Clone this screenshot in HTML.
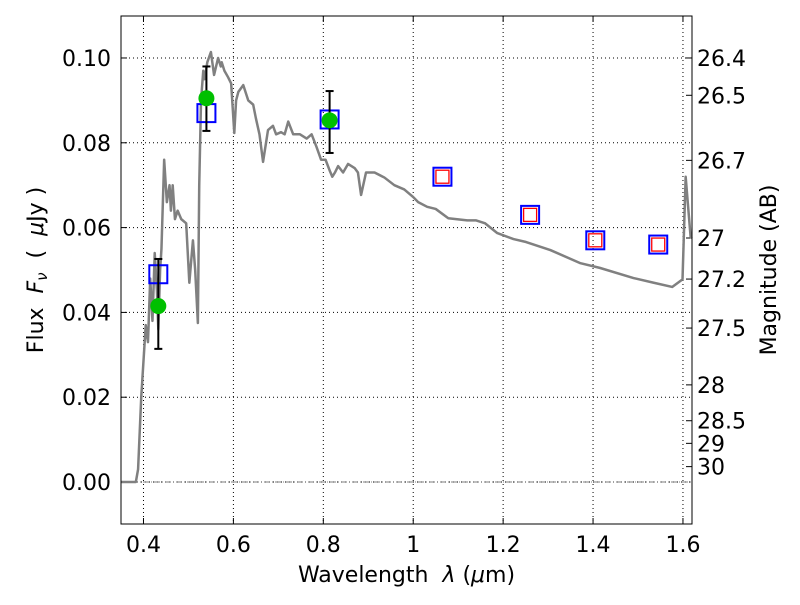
<!DOCTYPE html>
<html><head><meta charset="utf-8"><style>
body{margin:0;background:#fff}
svg text{font-family:"DejaVu Sans","Liberation Sans",sans-serif;fill:#000;white-space:pre}
</style></head><body>
<svg id="chart" width="800" height="600" xmlns="http://www.w3.org/2000/svg"></svg>
<script>
const specLam=[0.35,0.383,0.388,0.395,0.405,0.41,0.415,0.42,0.425,0.43,0.433,0.437,0.44,0.446,0.452,0.458,0.461,0.465,0.47,0.476,0.484,0.495,0.502,0.506,0.51,0.515,0.521,0.524,0.528,0.533,0.536,0.542,0.55,0.557,0.566,0.572,0.574,0.58,0.588,0.595,0.602,0.606,0.611,0.622,0.633,0.644,0.65,0.658,0.666,0.677,0.688,0.695,0.706,0.714,0.722,0.733,0.748,0.763,0.774,0.785,0.795,0.805,0.814,0.82,0.826,0.833,0.844,0.855,0.87,0.877,0.884,0.895,0.914,0.936,0.958,0.98,1.0,1.011,1.031,1.05,1.078,1.12,1.14,1.16,1.187,1.223,1.251,1.305,1.372,1.415,1.49,1.535,1.576,1.599,1.606,1.617,1.62];
const specFlux=[0.0,0.0,0.003,0.02,0.037,0.033,0.048,0.038,0.054,0.045,0.036,0.05,0.055,0.076,0.066,0.07,0.064,0.07,0.062,0.064,0.062,0.061,0.047,0.052,0.057,0.05,0.0375,0.07,0.09,0.097,0.095,0.099,0.1014,0.096,0.1,0.098,0.099,0.097,0.0955,0.094,0.0823,0.09,0.092,0.0936,0.09,0.089,0.0858,0.082,0.0755,0.083,0.084,0.082,0.0825,0.082,0.085,0.082,0.082,0.081,0.082,0.079,0.076,0.076,0.0735,0.072,0.073,0.0745,0.073,0.075,0.074,0.073,0.0677,0.073,0.073,0.0718,0.07,0.069,0.0672,0.066,0.0649,0.0644,0.0622,0.0617,0.0617,0.061,0.0587,0.0573,0.0566,0.0547,0.0516,0.0505,0.0481,0.047,0.046,0.0478,0.072,0.0578,0.0575];
const obsLam=[0.433,0.54,0.814];
const obsFlux=[0.0415,0.0905,0.0853];
const obsLo=[0.0314,0.0828,0.0776];
const obsHi=[0.0526,0.098,0.0922];
const modLam=[0.433,0.54,0.814,1.065,1.26,1.405,1.545];
const modFlux=[0.049,0.087,0.0855,0.072,0.063,0.057,0.056];
const redLam=[1.065,1.26,1.405,1.545];
const redFlux=[0.072,0.063,0.057,0.056];
const xTicks=[0.4,0.6,0.8,1.0,1.2,1.4,1.6];
const xTickLabels=["0.4","0.6","0.8","1","1.2","1.4","1.6"];
const yTicks=[0,0.02,0.04,0.06,0.08,0.10];
const yTickLabels=["0.00","0.02","0.04","0.06","0.08","0.10"];
const magTicks=[26.4,26.5,26.7,27,27.2,27.5,28,28.5,29,30];

const L=121,R=692,T=16,B=524;
const X0=0.35,X1=1.6201,Y0=-0.0099,Y1=0.1099;
const sx=v=>L+(v-X0)/(X1-X0)*(R-L);
const sy=v=>B-(v-Y0)/(Y1-Y0)*(B-T);
const svg=document.getElementById('chart');
const NS='http://www.w3.org/2000/svg';
function mk(tag,attrs,parent){const e=document.createElementNS(NS,tag);for(const k in attrs)e.setAttribute(k,attrs[k]);(parent||svg).appendChild(e);return e;}

xTicks.forEach((t,i)=>{
 const g=mk('line',{x1:sx(t),x2:sx(t),y1:T,y2:B,stroke:'#000','stroke-width':1,'stroke-dasharray':'1,3'});
 
 
 const tk=mk('line',{x1:sx(t),x2:sx(t),y1:B,y2:B-6,stroke:'#000'});
 
 
 mk('line',{x1:sx(t),x2:sx(t),y1:T,y2:T+6,stroke:'#000'});
 const lb=mk('text',{x:sx(t),y:B+28,'font-size':22,'text-anchor':'middle'});
 lb.textContent=xTickLabels[i];
 
 
});
yTicks.forEach((t,i)=>{
 const g=mk('line',{x1:L,x2:R,y1:sy(t),y2:sy(t),stroke:'#000','stroke-width':1,'stroke-dasharray':'1,3'});
 
 
 const tk=mk('line',{x1:L,x2:L+6,y1:sy(t),y2:sy(t),stroke:'#000'});
 
 
 const lb=mk('text',{x:L-10,y:sy(t)+8,'font-size':22,'text-anchor':'end'});
 lb.textContent=yTickLabels[i];
 
 
});
magTicks.forEach(m=>{
 const f=Math.pow(10,(23.9-m)/2.5);
 const tk=mk('line',{x1:R-6,x2:R,y1:sy(f),y2:sy(f),stroke:'#000'});
 
 
 const lb=mk('text',{x:R+5,y:sy(f)+8,'font-size':22});
 lb.textContent=String(m);
 
 
});
const z=mk('line',{x1:L,x2:R,y1:sy(0),y2:sy(0),stroke:'#555','stroke-width':0.8,'stroke-dasharray':'6,2,1,2'});



const sp=mk('polyline',{points:specLam.map((l,i)=>sx(l)+','+sy(specFlux[i])).join(' '),fill:'none',stroke:'#808080','stroke-width':2.5,'stroke-linejoin':'round'});



modLam.forEach((l,i)=>{
 const r=mk('rect',{x:sx(l)-9,y:sy(modFlux[i])-9,width:18,height:18,fill:'none',stroke:'#0000ff','stroke-width':2});
 
 
});
redLam.forEach((l,i)=>{
 const r=mk('rect',{x:sx(l)-6.5,y:sy(redFlux[i])-6.5,width:13,height:13,fill:'none',stroke:'#ff0000','stroke-width':1.3});
 
 
});
obsLam.forEach((l,i)=>{
 const x=sx(l);
 const e=mk('line',{x1:x,x2:x,y1:sy(obsLo[i]),y2:sy(obsHi[i]),stroke:'#000','stroke-width':2});
 
 
 mk('line',{x1:x-4,x2:x+4,y1:sy(obsLo[i]),y2:sy(obsLo[i]),stroke:'#000','stroke-width':2});
 mk('line',{x1:x-4,x2:x+4,y1:sy(obsHi[i]),y2:sy(obsHi[i]),stroke:'#000','stroke-width':2});
 const c=mk('circle',{cx:x,cy:sy(obsFlux[i]),r:8,fill:'#00c000'});
 
 
});
const fr=mk('rect',{x:L,y:T,width:R-L,height:B-T,fill:'none',stroke:'#000','stroke-width':1});


const xt=mk('text',{x:(L+R)/2,y:582,'font-size':22,'text-anchor':'middle'});
xt.innerHTML='Wavelength  <tspan font-style="italic">λ</tspan> (<tspan font-style="italic">μ</tspan>m)';


const yt=mk('text',{x:0,y:0,'font-size':22,'text-anchor':'middle',transform:'translate(43,'+((T+B)/2)+') rotate(-90)'});
yt.innerHTML='Flux  <tspan font-style="italic">F</tspan><tspan font-style="italic" font-size="15" dy="4">ν</tspan><tspan dy="-4">  (  </tspan><tspan font-style="italic">μ</tspan>Jy )';


const rt=mk('text',{x:0,y:0,'font-size':22,'text-anchor':'middle',transform:'translate(776,'+((T+B)/2)+') rotate(-90)'});
rt.textContent='Magnitude (AB)';


</script>
</body></html>
